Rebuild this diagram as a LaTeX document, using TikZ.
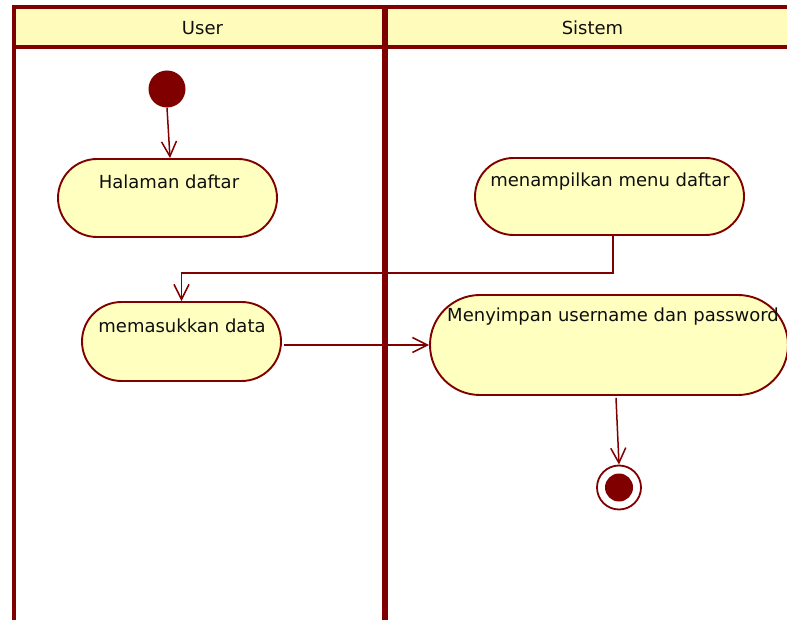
\documentclass[tikz,border=0pt]{standalone}
\usepackage{fontspec}
\setmainfont{DejaVu Sans}
\usetikzlibrary{arrows.meta}
\definecolor{umlred}{RGB}{128,0,0}
\definecolor{umlfill}{RGB}{255,255,192}
\definecolor{lanehead}{RGB}{255,252,187}
\definecolor{ink}{RGB}{15,15,15}
\tikzset{
  lane/.style={draw=umlred, line width=3.8pt},
  action/.style={draw=umlred, fill=umlfill, line width=1.9pt, rectangle, inner sep=0pt},
  lbl/.style={text=ink, font=\fontsize{18}{21}\selectfont, inner sep=0pt},
  flow/.style={draw=umlred, line width=1.5pt, -{Straight Barb[length=15pt,width=15pt,line width=1.5pt]}},
}
\begin{document}
\begin{tikzpicture}[x=1pt,y=-1pt]
\useasboundingbox (0,0) rectangle (787,620);
\clip (0,0) rectangle (787,620);

% swimlane headers and borders
\fill[lanehead] (14,7) rectangle (787,47);
\draw[lane] (14,620) -- (14,7) -- (790,7);
\draw[lane] (14,47) -- (790,47);
\draw[draw=umlred, line width=2.8pt] (383.5,7) -- (383.5,620);
\draw[draw=umlred, line width=2.8pt] (386.8,7) -- (386.8,620);
\node[lbl] (userHead) at (202.5,28) {User};
\node[lbl] (sysHead) at (592.5,28) {Sistem};

% initial node
\node[circle, fill=umlred, minimum size=37pt, inner sep=0pt] (init) at (167,89) {};

% actions
\node[action, minimum width=219pt, minimum height=78pt, rounded corners=39pt] (halaman) at (167.5,198) {};
\node[lbl] (halamanT) at (169,182) {Halaman daftar};

\node[action, minimum width=269pt, minimum height=77pt, rounded corners=38.5pt] (menu) at (609.5,196.5) {};
\node[lbl] (menuT) at (610,182) {menampilkan menu daftar};

\node[action, minimum width=199pt, minimum height=79pt, rounded corners=39.5pt] (data) at (181.5,341.5) {};
\node[lbl] (dataT) at (182,326) {memasukkan data};

\node[action, minimum width=358pt, minimum height=100pt, rounded corners=50pt] (simpan) at (609,345) {};
\node[lbl] (simpanT) at (613,317) {Menyimpan username dan password};

% final node
\node[circle, draw=umlred, fill=white, line width=1.8pt, minimum size=44pt, inner sep=0pt] (final) at (619,487.5) {};
\node[circle, fill=umlred, minimum size=28pt, inner sep=0pt] (finalDot) at (final) {};

% control flows
\draw[flow] (init.south) -- ([xshift=2.5pt]halaman.north);
\draw[flow] ([xshift=3.5pt]menu.south) -- ++(0,37) -| (data.north);
\draw[flow] ([xshift=2pt]data.east |- simpan.west) -- (simpan.west);
\draw[flow] ([xshift=7pt,yshift=-2pt]simpan.south) -- (final.north);
\end{tikzpicture}
\end{document}
